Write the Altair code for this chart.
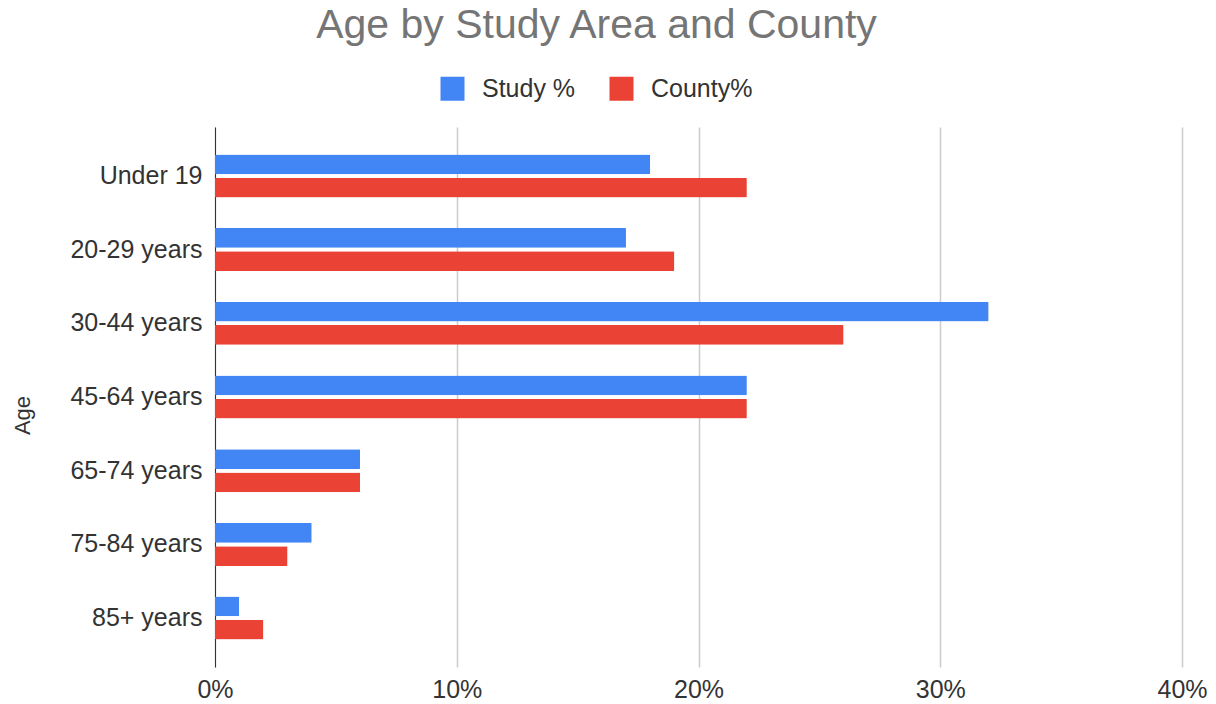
import altair as alt
import pandas as pd

ages = ["Under 19", "20-29 years", "30-44 years", "45-64 years", "65-74 years", "75-84 years", "85+ years"]
study_pct = [0.18, 0.17, 0.32, 0.22, 0.06, 0.04, 0.01]
county_pct = [0.22, 0.19, 0.26, 0.22, 0.06, 0.03, 0.02]
series_names = ["Study %", "County%"]
colors = ["#4285F4", "#EA4335"]
x_ticks = [0, 0.1, 0.2, 0.3, 0.4]

rows = []
for a, s, c in zip(ages, study_pct, county_pct):
    rows.append({"Age": a, "Series": series_names[0], "Value": s})
    rows.append({"Age": a, "Series": series_names[1], "Value": c})
df = pd.DataFrame(rows)

FONT = "Liberation Sans"
TXT = "#333333"

chart = alt.Chart(df).mark_bar(cornerRadius=1).encode(
    y=alt.Y("Age:N", sort=ages,
            scale=alt.Scale(paddingInner=0.417, paddingOuter=0.372),
            axis=alt.Axis(title="Age", titleFont=FONT, titleFontSize=22, titleFontWeight="normal",
                          titleColor=TXT, titleX=-193, titleY=288, titleAngle=270,
                          titleAlign="center", titleBaseline="middle",
                          labelFont=FONT, labelFontSize=25, labelColor=TXT, labelPadding=13,
                          ticks=False, domain=True, domainColor="#333333", grid=False)),
    yOffset=alt.YOffset("Series:N", sort=series_names, scale=alt.Scale(paddingInner=0.15)),
    x=alt.X("Value:Q", scale=alt.Scale(domain=[0, 0.4], nice=False),
            axis=alt.Axis(title=None, format=".0%", values=x_ticks, labelFont=FONT, labelFontSize=25,
                          labelColor=TXT, labelPadding=10, labelFlush=False, ticks=False, domain=False,
                          grid=True, gridColor="#cccccc", gridWidth=1.5)),
    color=alt.Color("Series:N", sort=series_names,
                    scale=alt.Scale(domain=series_names, range=colors),
                    legend=alt.Legend(title=None, orient="none", legendX=225, legendY=-51,
                                      direction="horizontal", columns=2, symbolType="square",
                                      symbolSize=576, symbolStrokeWidth=0, symbolOpacity=1,
                                      labelFont=FONT, labelFontSize=25, labelColor=TXT,
                                      labelOffset=17, columnPadding=33, padding=0)),
).properties(
    width=967, height=540,
    title=alt.TitleParams("Age by Study Area and County", fontSize=41, color="#757575", font=FONT,
                          fontWeight="normal", anchor="middle", dx=-102, offset=29),
    autosize=alt.AutoSizeParams(type="none"),
    padding={"left": 215, "top": 127, "right": 34, "bottom": 37},
).configure_view(stroke=None)

chart.save("out.html", embed_options={"renderer": "svg", "actions": False})
